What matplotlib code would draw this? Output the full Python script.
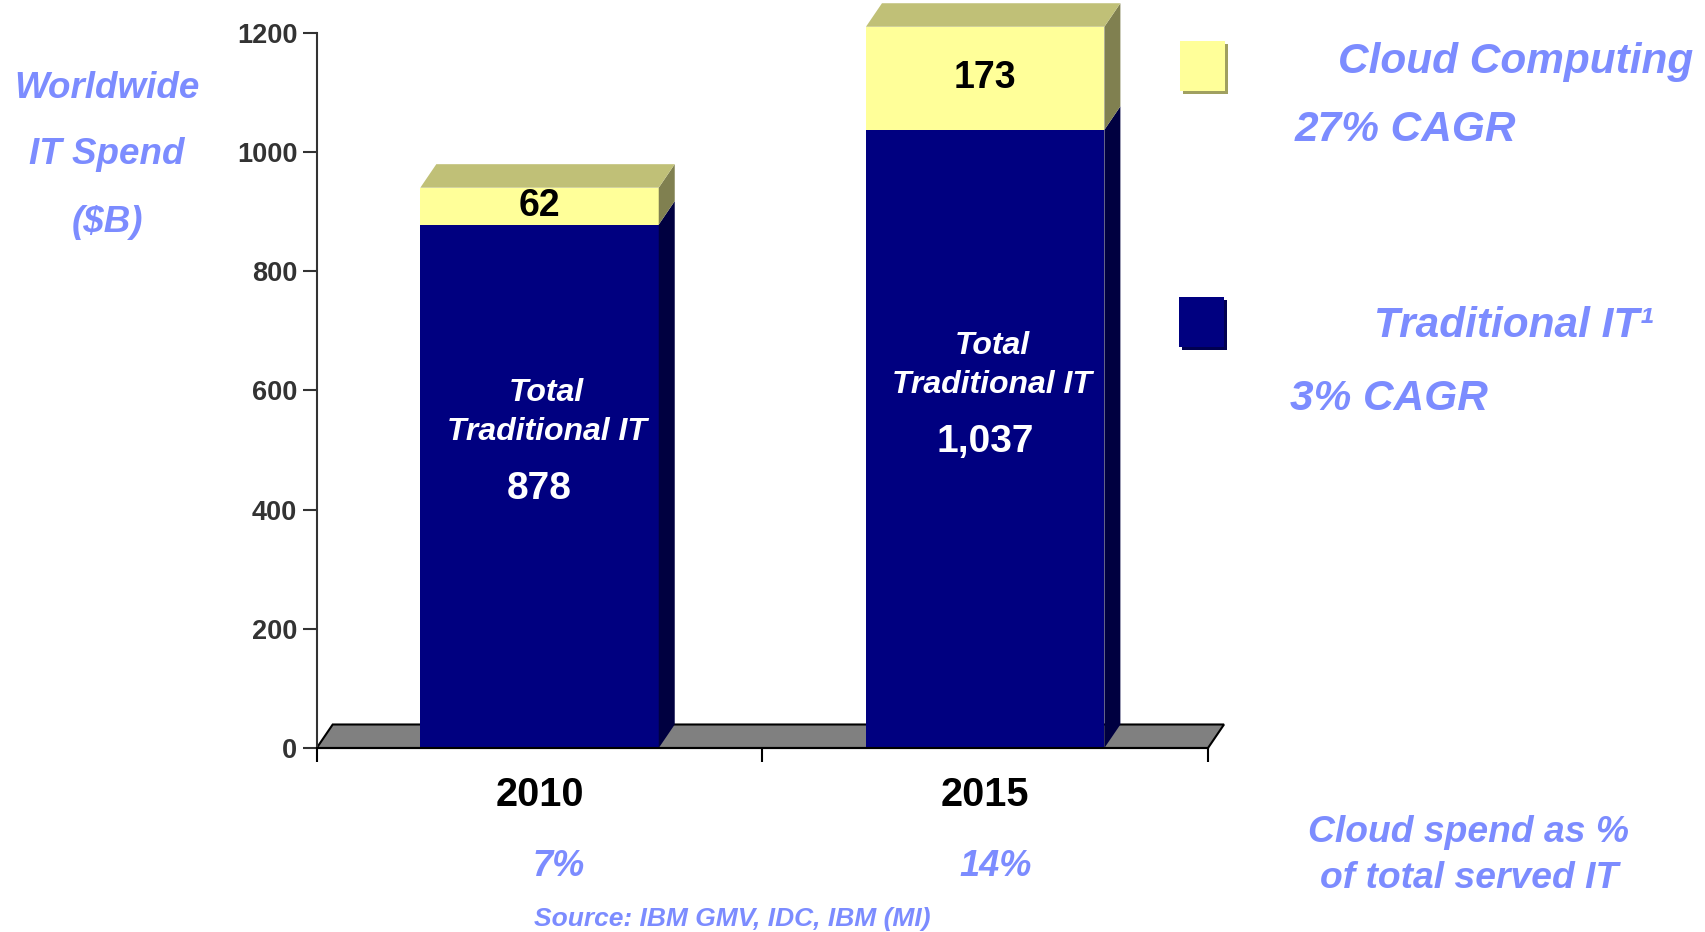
import matplotlib
matplotlib.use("Agg")
import matplotlib.pyplot as plt
from matplotlib.patches import Polygon, Rectangle

plt.rcParams["font.family"] = ["Liberation Sans", "DejaVu Sans"]

# data
years = ["2010", "2015"]
traditional = [878, 1037]
cloud = [62, 173]
cloud_share = ["7%", "14%"]
y_ticks = [0, 200, 400, 600, 800, 1000, 1200]

# colours
navy = "#000080"
navy_side = "#000040"
yellow = "#FFFF99"
yellow_side = "#808050"
yellow_top = "#C0C077"
floor_grey = "#808080"
lav = "#7C8CFF"

W, H = 1706, 932
fig = plt.figure(figsize=(W / 100, H / 100), dpi=100)
ax = fig.add_axes([316.7 / W, (H - 748) / H, (1208 - 316.7) / W, (748 - 32.7) / H])
ax.set_xlim(0, 2)
ax.set_ylim(0, 1200)

# 3d depth in data units (about 16px right, 23px up)
dx = 16 / 445.6
dy = 23.5 / 0.596
bw = 0.535
xs = [0.5, 1.5]

# floor
ax.add_patch(Polygon([(0, 0), (2, 0), (2 + dx, dy), (dx, dy)], closed=True,
                     facecolor=floor_grey, edgecolor="black", lw=1.5,
                     zorder=1, clip_on=False))

ax.bar(xs, traditional, width=bw, color=navy, zorder=3)
ax.bar(xs, cloud, width=bw, bottom=traditional, color=yellow, zorder=3,
       clip_on=False)

for x, t, c in zip(xs, traditional, cloud):
    x0, x1 = x - bw / 2, x + bw / 2
    top = t + c
    # side faces
    ax.add_patch(Polygon([(x1, 0), (x1 + dx, dy), (x1 + dx, t + dy), (x1, t)],
                         closed=True, facecolor=navy_side, edgecolor="none",
                         zorder=3, clip_on=False))
    ax.add_patch(Polygon([(x1, t), (x1 + dx, t + dy), (x1 + dx, top + dy), (x1, top)],
                         closed=True, facecolor=yellow_side, edgecolor="none",
                         zorder=3, clip_on=False))
    # top face
    ax.add_patch(Polygon([(x0, top), (x1, top), (x1 + dx, top + dy), (x0 + dx, top + dy)],
                         closed=True, facecolor=yellow_top, edgecolor="none",
                         zorder=3, clip_on=False))
    # labels inside bars
    ax.text(x, t + c / 2, f"{c:,}", ha="center", va="center", fontsize=27,
            fontweight="bold", color="black", zorder=5)
    mid = t * 0.495
    ax.text(x, mid, f"{t:,}", ha="center", va="center", fontsize=28,
            fontweight="bold", color="white", zorder=5)
    ax.annotate("Traditional IT", (x, mid), xytext=(5, 41), textcoords="offset points",
                ha="center", va="center", fontsize=23, fontweight="bold",
                style="italic", color="white", zorder=5)
    ax.annotate("Total", (x, mid), xytext=(5, 69), textcoords="offset points",
                ha="center", va="center", fontsize=23, fontweight="bold",
                style="italic", color="white", zorder=5)

# axes styling
for s in ["top", "right"]:
    ax.spines[s].set_visible(False)
ax.spines["left"].set_color("#333333")
ax.spines["left"].set_linewidth(1.5)
ax.spines["bottom"].set_color("black")
ax.spines["bottom"].set_linewidth(1.5)
ax.spines["bottom"].set_zorder(6)

ax.set_yticks(y_ticks)
ax.set_yticklabels([str(v) for v in y_ticks], fontsize=19.5, fontweight="bold",
                   color="#333333")
ax.tick_params(axis="y", length=10, width=1.5, color="#333333", pad=4)

ax.set_xticks(xs)
ax.set_xticklabels(years, fontsize=28.5, fontweight="bold", color="black")
ax.set_xticks([0, 1, 2], minor=True)
ax.tick_params(axis="x", which="major", length=0, pad=20)
ax.tick_params(axis="x", which="minor", length=10, width=1.5, color="black")


def fx(px):
    return px / W


def fy(py):
    return 1 - py / H


txt = dict(color=lav, fontweight="bold", style="italic")

# y axis title
for line, py in zip(["Worldwide", "IT Spend", "($B)"], [88, 155, 223]):
    fig.text(fx(107), fy(py), line, ha="center", va="center", fontsize=26.5, **txt)

# legend
fig.add_artist(Rectangle((fx(1183), fy(94)), fx(45), 1 - fy(50), transform=fig.transFigure,
                         facecolor="#A0A060", edgecolor="none"))
fig.add_artist(Rectangle((fx(1180), fy(91)), fx(45), 1 - fy(50), transform=fig.transFigure,
                         facecolor=yellow, edgecolor="none"))
fig.add_artist(Rectangle((fx(1182), fy(350)), fx(45), 1 - fy(50), transform=fig.transFigure,
                         facecolor="#000050", edgecolor="none"))
fig.add_artist(Rectangle((fx(1179), fy(347)), fx(45), 1 - fy(50), transform=fig.transFigure,
                         facecolor=navy, edgecolor="none"))

fig.text(fx(1338), fy(62), "Cloud Computing", ha="left", va="center", fontsize=30.5, **txt)
fig.text(fx(1295), fy(130), "27% CAGR", ha="left", va="center", fontsize=30.5, **txt)
fig.text(fx(1374), fy(326), "Traditional IT\u00b9", ha="left", va="center", fontsize=30.5, **txt)
fig.text(fx(1290), fy(399), "3% CAGR", ha="left", va="center", fontsize=30.5, **txt)

# bottom notes
for share, px in zip(cloud_share, [559, 996]):
    fig.text(fx(px), fy(866), share, ha="center", va="center", fontsize=26, **txt)
fig.text(fx(1469), fy(833), "Cloud spend as %", ha="center", va="center", fontsize=26.8, **txt)
fig.text(fx(1469), fy(878), "of total served IT", ha="center", va="center", fontsize=26.8, **txt)
fig.text(fx(732), fy(919), "Source: IBM GMV, IDC, IBM (MI)", ha="center", va="center",
         fontsize=19, **txt)

fig.savefig("out.png", dpi=100)
